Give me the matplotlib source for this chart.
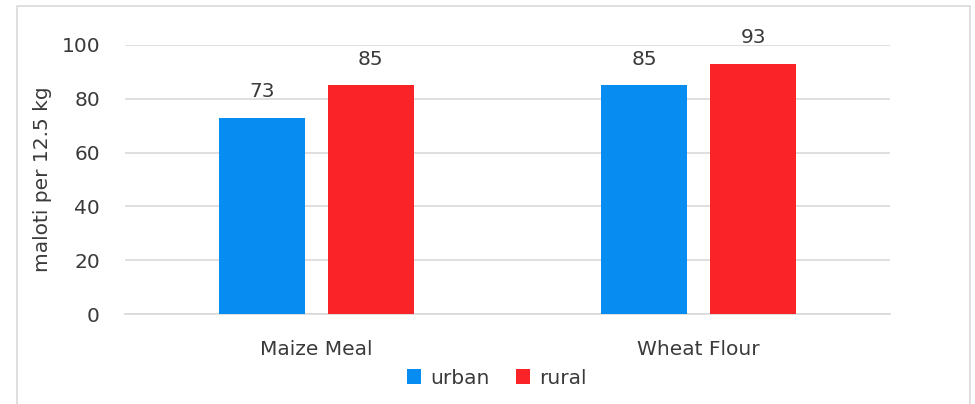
import matplotlib
matplotlib.use("Agg")
import matplotlib.pyplot as plt
import numpy as np
from matplotlib.patches import Rectangle

categories = ["Maize Meal", "Wheat Flour"]
series_names = ["urban", "rural"]
urban = [73, 85]
rural = [85, 93]
yticks = [0, 20, 40, 60, 80, 100]

plt.rcParams['font.family'] = ['DejaVu Sans']
txt = '#3A3A3A'
blue = '#078DF2'
red = '#FA2428'
fs = 14.5

fig = plt.figure(figsize=(9.75, 4.04), dpi=100)
W, H = 975, 404
ax = fig.add_axes([125 / W, 1 - 314 / H, (890 - 125) / W, (314 - 45) / H])

x = np.arange(len(categories))
bw = 0.225
off = 0.142
b1 = ax.bar(x - off, urban, bw, color=blue, label=series_names[0], zorder=3)
b2 = ax.bar(x + off, rural, bw, color=red, label=series_names[1], zorder=3)
for bars, vals in ((b1, urban), (b2, rural)):
    for r, v in zip(bars, vals):
        ax.annotate(f"{v}", (r.get_x() + r.get_width() / 2, v), xytext=(0, 15),
                    textcoords='offset points', ha='center', va='baseline',
                    fontsize=fs, color=txt)

ax.set_xlim(-0.5, 1.5)
ax.set_ylim(0, 100)
ax.set_yticks(yticks)
ax.set_xticks(x)
ax.set_xticklabels(categories)
ax.yaxis.grid(True, color='#D9D9D9', linewidth=1.2, zorder=0)
ax.set_axisbelow(True)
for s in ['top', 'right', 'left']:
    ax.spines[s].set_visible(False)
ax.spines['bottom'].set_color('#D9D9D9')
ax.spines['bottom'].set_linewidth(1.2)
ax.tick_params(axis='y', length=0, pad=18, labelsize=fs, labelcolor=txt)
ax.tick_params(axis='x', length=0, pad=19, labelsize=fs, labelcolor=txt)
ax.set_ylabel("maloti per 12.5 kg", fontsize=fs, color=txt, labelpad=7)

leg = fig.legend(handles=[b1, b2], labels=series_names, loc='center',
                 bbox_to_anchor=(497 / W, 1 - 378 / H), ncol=2, frameon=False,
                 fontsize=fs, handlelength=0.7, handleheight=0.7,
                 handletextpad=0.45, columnspacing=1.3)
for t in leg.get_texts():
    t.set_color(txt)

fig.patches.append(Rectangle((17 / W, -0.05), (970 - 17) / W, 1 - 6 / H + 0.05,
                             transform=fig.transFigure, fill=False,
                             edgecolor='#D9D9D9', linewidth=1.2))

fig.savefig("out.png", dpi=100)
